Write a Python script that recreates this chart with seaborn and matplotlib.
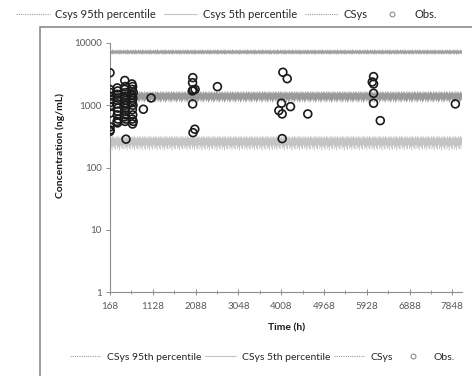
import numpy as np
import pandas as pd
import seaborn as sns
import matplotlib
matplotlib.use("Agg")
import matplotlib.pyplot as plt
from matplotlib.lines import Line2D
from matplotlib.patches import Rectangle
from matplotlib.ticker import FixedLocator, NullFormatter

# ---- simulated profiles: peak / trough levels within each dosing interval (ng/mL)
dose_interval = 24
sim_start, sim_end = 168, 8064
p95_peaks = [7700, 7500, 7800, 7600, 7450, 7750, 7550]
p95_troughs = [6700, 6800, 6600, 6750, 6650, 6850, 6700]
median_peaks = [1620, 1560, 1660, 1580, 1640]
median_troughs = [1150, 1220, 1120, 1180, 1250]
p5_peaks = [315, 300, 320, 305, 298]
p5_troughs = [200, 215, 190, 225, 205, 195, 230]

# ---- observed concentrations
obs_time = [
    168, 160, 172, 165, 178, 170, 162, 175, 168, 171, 166,
    330, 340, 325, 345, 335, 328, 342, 338, 332, 348, 326, 336,
    500, 510, 495, 520, 505, 490, 515, 508, 498, 522, 502, 512, 494, 518, 506, 527,
    660, 675, 668, 690, 655, 680, 672, 662, 685, 670, 678, 665, 688, 674,
    916, 1089,
    2025, 2020, 2035, 2077, 2015, 2022, 2070, 2030, 2578,
    4046, 4143, 4015, 3956, 4030, 4217, 4605, 4030,
    6080, 6051, 6080, 6080, 6080, 6231, 7915,
]
obs_conc = [
    3330, 1800, 1600, 1400, 1250, 1100, 950, 750, 450, 400, 380,
    1900, 1700, 1500, 1300, 1200, 1050, 900, 800, 700, 600, 550, 520,
    2500, 2000, 1800, 1600, 1400, 1300, 1200, 1100, 1000, 900, 800, 700, 650, 600, 550, 285,
    2200, 2000, 1800, 1600, 1450, 1300, 1200, 1100, 1000, 850, 700, 600, 550, 500,
    863, 1310,
    2775, 2306, 1762, 1800, 1700, 1050, 412, 363, 1990,
    3388, 2673, 1077, 820, 725, 950, 725, 291,
    2884, 2366, 2197, 1556, 1077, 566, 1050,
]

x_ticks = [168, 1128, 2088, 3048, 4008, 4968, 5928, 6888, 7848]
y_ticks = [1, 10, 100, 1000, 10000]
y_labels = ["1", "10", "100", "1000", "10000"]

legend_top = ["Csys 95th percentile", "Csys 5th percentile", "CSys", "Obs."]
legend_bottom = ["CSys 95th percentile", "CSys 5th percentile", "CSys", "Obs."]


def profile(peaks, troughs):
    """Alternate trough (dose time) and peak (mid-interval) levels along the dosing grid."""
    t = np.arange(sim_start, sim_end + 1, dose_interval / 2)
    vals = []
    for i in range(len(t)):
        k = i // 2
        if i % 2 == 0:
            vals.append(troughs[k % len(troughs)])
        else:
            vals.append(peaks[k % len(peaks)])
    return pd.DataFrame({"time": t, "conc": vals})


sns.set_theme(style="white")
plt.rcParams["font.family"] = ["Lato", "DejaVu Sans"]

fig = plt.figure(figsize=(4.72, 3.76), dpi=100)
ax = fig.add_axes([110 / 472, 1 - 292 / 376, 352 / 472, 249 / 376])

c95, c5, cmed = "#a0a0a0", "#c4c4c4", "#9a9a9a"
sns.lineplot(data=profile(p95_peaks, p95_troughs), x="time", y="conc", ax=ax,
             color=c95, linewidth=0.6, estimator=None)
sns.lineplot(data=profile(p5_peaks, p5_troughs), x="time", y="conc", ax=ax,
             color=c5, linewidth=0.6, estimator=None)
sns.lineplot(data=profile(median_peaks, median_troughs), x="time", y="conc", ax=ax,
             color=cmed, linewidth=0.6, estimator=None)

obs = pd.DataFrame({"time": obs_time, "conc": obs_conc})
sns.scatterplot(data=obs, x="time", y="conc", ax=ax, marker="o", s=32,
                facecolor="none", edgecolor="#1a1a1a", linewidth=1.2, zorder=5)

ax.set_yscale("log")
ax.set_ylim(1, 10000)
ax.set_xlim(sim_start, sim_end)
ax.set_yticks(y_ticks)
ax.set_yticklabels(y_labels)
ax.yaxis.set_minor_locator(FixedLocator([]))
ax.set_xticks(x_ticks)
ax.set_xticklabels([str(v) for v in x_ticks])
ax.xaxis.set_minor_locator(FixedLocator([v + 480 for v in x_ticks[:-1]]))
ax.xaxis.set_minor_formatter(NullFormatter())

axis_col = "#8c8c8c"
for side in ["top", "right"]:
    ax.spines[side].set_visible(False)
for side in ["left", "bottom"]:
    ax.spines[side].set_color(axis_col)
    ax.spines[side].set_linewidth(0.8)
ax.tick_params(axis="y", which="major", direction="out", length=3, width=0.7,
               color=axis_col, labelsize=7, labelcolor="#595959", pad=3, left=True)
ax.tick_params(axis="x", which="major", direction="inout", length=5, width=0.7,
               color=axis_col, labelsize=7, labelcolor="#595959", pad=5, bottom=True)
ax.tick_params(axis="x", which="minor", direction="inout", length=3, width=0.6,
               color=axis_col, bottom=True)
ax.set_xlabel("Time (h)", fontsize=7.5, fontweight="bold", color="#1a1a1a")
ax.set_ylabel("Concentration (ng/mL)", fontsize=7.5, fontweight="bold", color="#1a1a1a")
ax.xaxis.set_label_coords(0.503, -0.128)
ax.yaxis.set_label_coords(-0.128, 0.59)

# chart-area frame
fig.patches.append(Rectangle((40 / 472, -0.1), 1.0, 1.1 - 27 / 376, transform=fig.transFigure,
                             fill=False, edgecolor="#8c8c8c", linewidth=1.2))


def handles():
    return [
        Line2D([], [], color=c95, linewidth=0.8, linestyle=(0, (1, 1))),
        Line2D([], [], color=c5, linewidth=0.8),
        Line2D([], [], color=cmed, linewidth=0.8, linestyle=(0, (1, 1))),
        Line2D([], [], color="#8c8c8c", marker="o", markersize=3.5, markerfacecolor="none",
               linestyle="none", markeredgewidth=0.8),
    ]


fig.legend(handles(), legend_top, loc="center left", bbox_to_anchor=(12 / 472, 1 - 14 / 376),
           ncol=4, frameon=False, fontsize=8, handlelength=3.0, handletextpad=0.5,
           columnspacing=0.7, borderaxespad=0, labelcolor="#262626")
fig.legend(handles(), legend_bottom, loc="center left", bbox_to_anchor=(66 / 472, 1 - 357 / 376),
           ncol=4, frameon=False, fontsize=7.5, handlelength=3.0, handletextpad=0.5,
           columnspacing=0.4, borderaxespad=0, labelcolor="#262626")

fig.savefig("out.png", dpi=100, facecolor="white")
